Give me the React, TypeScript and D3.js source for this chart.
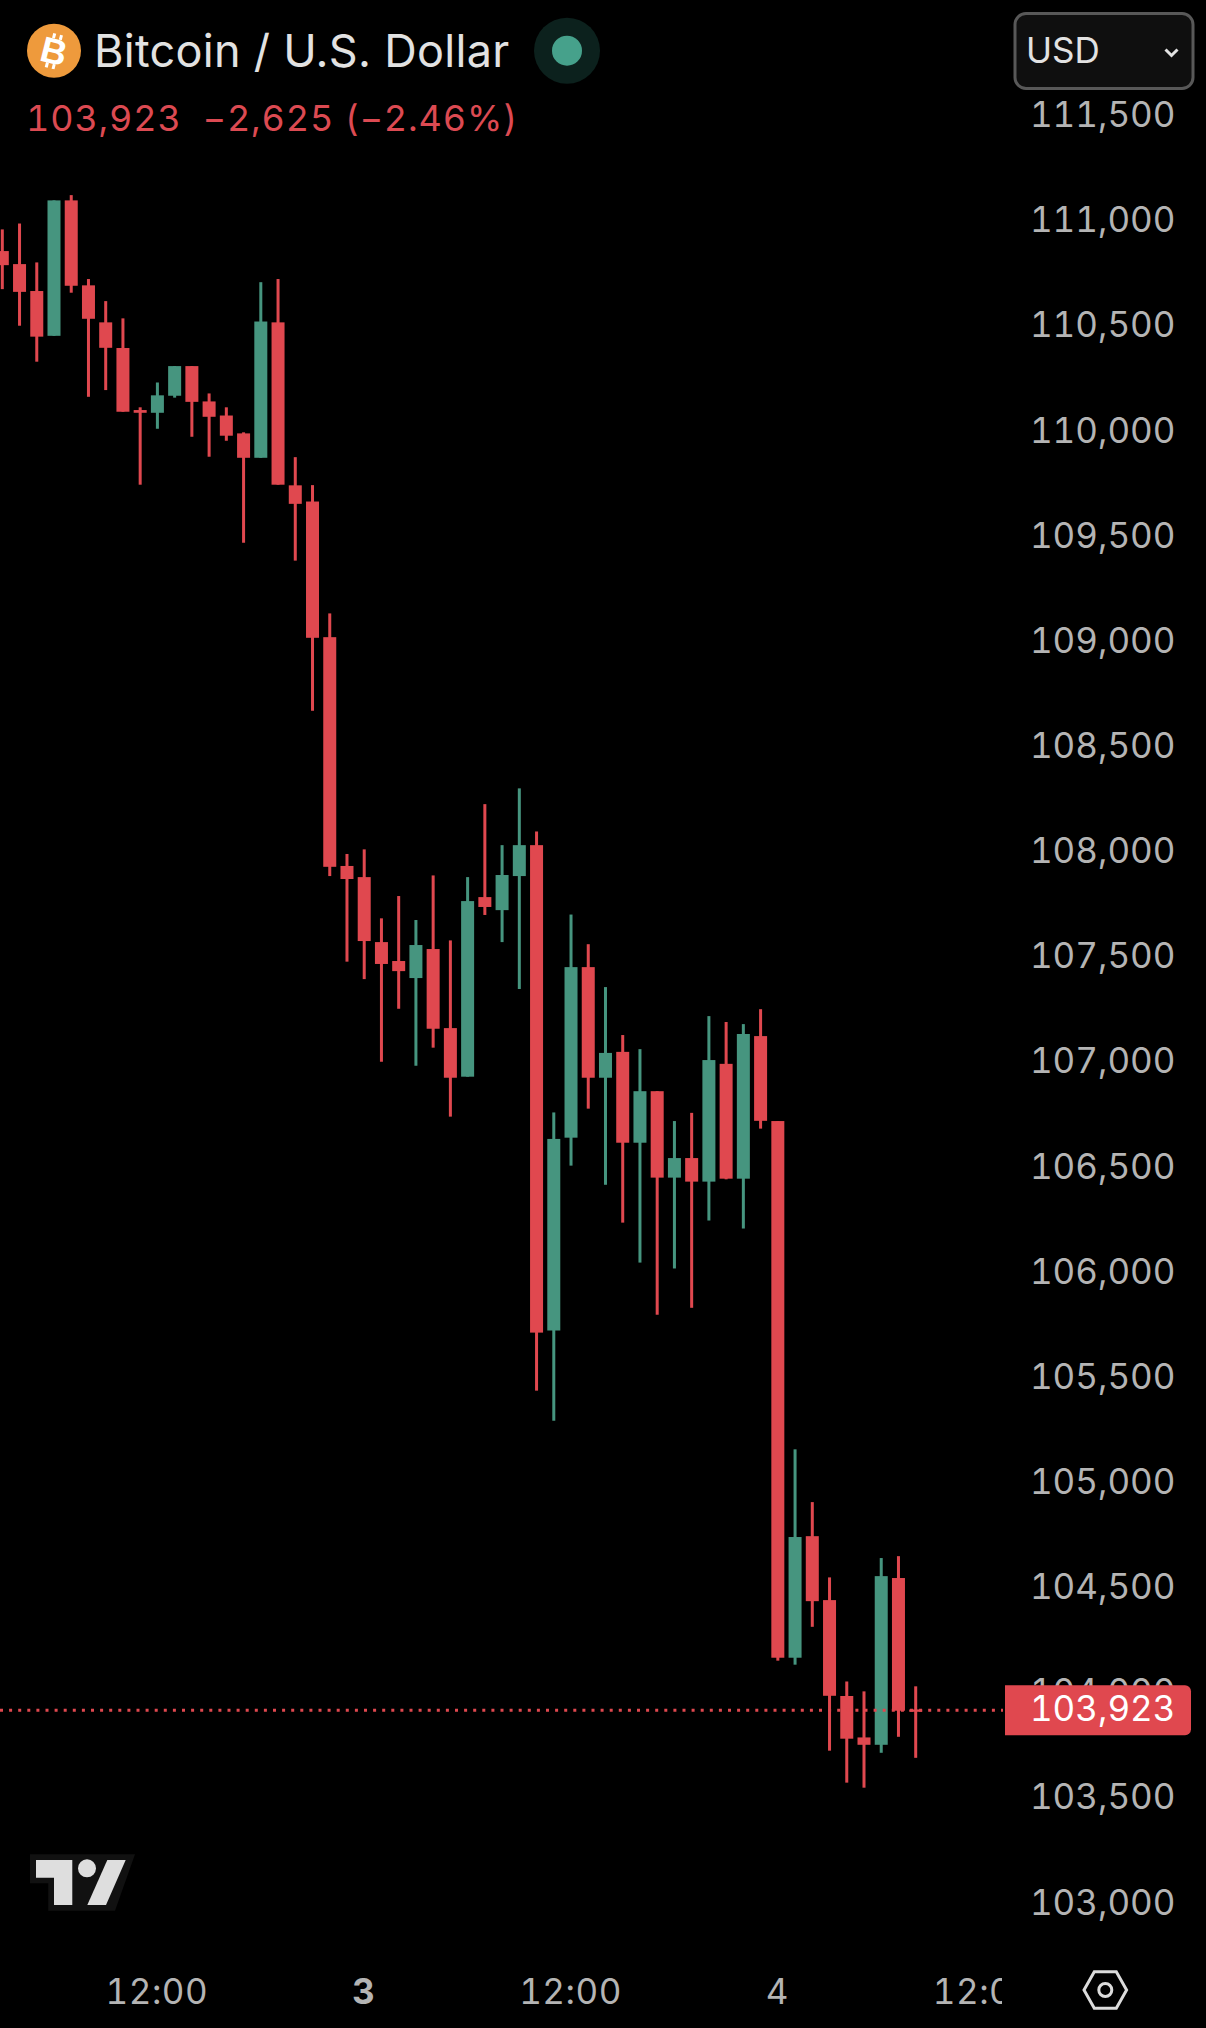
import { useEffect, useRef } from "react";
import * as d3 from "d3";

const opens = [110862, 110800, 110672, 110459, 111103, 110699, 110523, 110401, 110106, 110093, 110174, 110315, 110147, 110080, 109995, 109879, 110523, 109748, 109671, 109026, 107938, 107885, 107576, 107486, 107405, 107543, 107167, 106936, 107790, 107728, 107890, 108037, 105729, 106646, 107457, 106931, 107054, 106622, 106867, 106456, 106549, 106437, 106997, 106451, 107129, 106725, 104173, 104751, 104447, 103991, 103794, 103759, 104552, 103927];
const highs = [110965, 110993, 110808, 111103, 111128, 110729, 110624, 110542, 110119, 110237, 110315, 110315, 110185, 110119, 110000, 110714, 110729, 109882, 109749, 109139, 107995, 108017, 107689, 107795, 107681, 107893, 107584, 107885, 108232, 108037, 108307, 108102, 106766, 107707, 107566, 107362, 107134, 107067, 106867, 106725, 106764, 107224, 107196, 107186, 107257, 106725, 105164, 104913, 104555, 104060, 104013, 104647, 104656, 104037];
const lows = [110681, 110507, 110336, 110459, 110664, 110169, 110201, 110098, 109751, 110017, 110165, 109979, 109884, 109960, 109475, 109879, 109751, 109390, 108676, 107890, 107483, 107400, 107007, 107259, 106988, 107074, 106746, 106936, 107705, 107576, 107353, 105443, 105300, 106513, 106784, 106422, 106242, 106052, 105804, 106024, 105837, 106252, 106448, 106214, 106689, 104159, 104140, 104320, 103731, 103579, 103555, 103721, 103797, 103697];
const closes = [110795, 110668, 110455, 111103, 110697, 110540, 110402, 110098, 110093, 110176, 110315, 110145, 110074, 109984, 109879, 110527, 109751, 109660, 109023, 107934, 107876, 107581, 107472, 107438, 107562, 107164, 106931, 107771, 107743, 107895, 108037, 105719, 106640, 107457, 106931, 107049, 106622, 106867, 106456, 106549, 106437, 107015, 106451, 107139, 106726, 104173, 104747, 104442, 103992, 103788, 103759, 104561, 103921, 103916];

const priceTicks = d3.range(103000, 111501, 500);
const timeTickIndex = [9, 21, 33, 45, 57];
const timeTickLabels = ["12:00", "3", "12:00", "4", "12:00"];
const lastPrice = 103923;

const title = "Bitcoin / U.S. Dollar";
const quote = "103,923  \u22122,625 (\u22122.46%)";

const RED = "#e0484f";
const GREEN = "#46957f";
const AXIS_TEXT = "#b4b4b4";
const FONT = "Inter, 'Noto Sans', sans-serif";

const WIDTH = 1206;
const HEIGHT = 2028;
const PANE_RIGHT = 1003;

export default function App() {
  const svgRef = useRef<SVGSVGElement>(null);

  useEffect(() => {
    if (!svgRef.current) return;
    document.body.style.background = "#000";

    const svg = d3.select(svgRef.current);
    svg.selectAll("*").remove();

    const defs = svg.append("defs");
    defs.append("clipPath").attr("id", "pane-clip")
      .append("rect").attr("width", PANE_RIGHT).attr("height", HEIGHT);

    const x = d3.scaleLinear().domain([0, 53]).range([2.3, 915.7]);
    const y = d3.scaleLinear().domain([lastPrice, 111500]).range([1710.3, 116.9]);

    // Candles
    const pane = svg.append("g").attr("clip-path", "url(#pane-clip)");
    const candles = pane.selectAll("g.candle")
      .data(opens.map((o, i) => ({ i, o, h: highs[i], l: lows[i], c: closes[i] })))
      .join("g")
      .attr("fill", (d) => (d.c >= d.o ? GREEN : RED));

    candles.append("rect")
      .attr("x", (d) => x(d.i) - 1.5)
      .attr("width", 3)
      .attr("y", (d) => y(d.h))
      .attr("height", (d) => y(d.l) - y(d.h));

    candles.append("rect")
      .attr("x", (d) => x(d.i) - 6.5)
      .attr("width", 13)
      .attr("y", (d) => y(Math.max(d.o, d.c)))
      .attr("height", (d) => Math.max(2, y(Math.min(d.o, d.c)) - y(Math.max(d.o, d.c))));

    // Last price line
    pane.append("line")
      .attr("x1", 0)
      .attr("x2", PANE_RIGHT)
      .attr("y1", y(lastPrice))
      .attr("y2", y(lastPrice))
      .attr("stroke", RED)
      .attr("stroke-width", 3)
      .attr("stroke-dasharray", "3,6.1");

    // Price axis
    const yAxis = svg.append("g")
      .attr("transform", "translate(1175.5,-1.5)")
      .call(d3.axisLeft(y).tickValues(priceTicks).tickSize(0).tickPadding(0).tickFormat((d) => d3.format(",")(d as number)));
    yAxis.select(".domain").remove();
    yAxis.selectAll("text")
      .attr("fill", AXIS_TEXT)
      .attr("font-family", FONT)
      .attr("font-size", 35)
      .attr("style", "font-feature-settings: 'tnum'");

    // Last price tag
    const tagY = y(lastPrice);
    svg.append("path")
      .attr("d", `M1005,${tagY - 25}H1185a6,6 0 0 1 6,6V${tagY + 19}a6,6 0 0 1 -6,6H1005Z`)
      .attr("fill", RED);
    svg.append("text")
      .attr("x", 1175.5)
      .attr("y", tagY - 1)
      .attr("dy", ".32em")
      .attr("text-anchor", "end")
      .attr("fill", "#fff")
      .attr("font-family", FONT)
      .attr("font-size", 35)
      .attr("style", "font-feature-settings: 'tnum'")
      .text(d3.format(",")(lastPrice));

    // Time axis, clipped at the pane edge
    const xAxis = svg.append("g")
      .attr("clip-path", "url(#pane-clip)")
      .attr("transform", "translate(-1,1965)")
      .call(d3.axisBottom(x).tickValues(timeTickIndex).tickSize(0).tickPadding(0).tickFormat((_d, i) => timeTickLabels[i]));
    xAxis.select(".domain").remove();
    xAxis.selectAll("text")
      .attr("fill", AXIS_TEXT)
      .attr("font-family", FONT)
      .attr("font-size", 35)
      .attr("font-weight", (_d, i) => (i === 1 ? 700 : 400))
      .attr("style", "font-feature-settings: 'tnum'; letter-spacing: 0.5px")
      .attr("y", 39)
      .attr("dy", 0);

    // Header
    svg.append("circle").attr("cx", 54).attr("cy", 50.7).attr("r", 27).attr("fill", "#ee9a3c");
    const coin = svg.append("g").attr("transform", "translate(54,50.7) rotate(14)").attr("fill", "#fff");
    coin.append("text")
      .attr("text-anchor", "middle")
      .attr("y", 13)
      .attr("font-family", "'Liberation Sans', sans-serif")
      .attr("font-weight", 700)
      .attr("font-size", 36)
      .text("B");
    [[-5, -17], [2, -17], [-5, 13], [2, 13]].forEach(([tx, ty]) => {
      coin.append("rect").attr("x", tx).attr("y", ty).attr("width", 3).attr("height", 5);
    });

    svg.append("text")
      .attr("x", 94)
      .attr("y", 67)
      .attr("fill", "#e2e2e2")
      .attr("font-family", FONT)
      .attr("font-size", 45)
      .attr("style", "letter-spacing: 0.3px")
      .text(title);

    svg.append("text")
      .attr("x", 26)
      .attr("y", 131)
      .attr("fill", "#dc4a52")
      .attr("font-family", FONT)
      .attr("font-size", 36)
      .attr("style", "white-space: pre; font-feature-settings: 'tnum'; letter-spacing: 0.85px")
      .text(quote);

    // Market status dot
    svg.append("circle").attr("cx", 567).attr("cy", 50.7).attr("r", 33).attr("fill", "#0c211d");
    svg.append("circle").attr("cx", 567).attr("cy", 50.7).attr("r", 15).attr("fill", "#46a18b");

    // Currency button
    svg.append("rect")
      .attr("x", 1015).attr("y", 13.5).attr("width", 178).attr("height", 75).attr("rx", 11)
      .attr("fill", "#0f0f0f").attr("stroke", "#585858").attr("stroke-width", 3);
    svg.append("text")
      .attr("x", 1026).attr("y", 63)
      .attr("fill", "#e2e2e2")
      .attr("font-family", FONT)
      .attr("font-size", 35)
      .text("USD");
    svg.append("path")
      .attr("d", "M1165.5,49.5L1171.5,55.5L1177.5,49.5")
      .attr("fill", "none").attr("stroke", "#e2e2e2").attr("stroke-width", 3);

    // Logo
    const logo = svg.append("g").attr("fill", "#dedede");
    logo.append("path").attr("d", "M30,1854.3H135L115,1910.7H48.3V1883.3H30Z").attr("fill", "#111");
    logo.append("path").attr("d", "M36,1860H72.3V1905H54V1877.7H36Z");
    logo.append("circle").attr("cx", 87).attr("cy", 1868.3).attr("r", 9);
    logo.append("path").attr("d", "M107.3,1860H125.7L106,1905H87.3Z");

    // Settings icon
    const gear = svg.append("g").attr("fill", "none").attr("stroke", "#dcdcdc").attr("stroke-width", 3);
    gear.append("path").attr("d", "M1084,1990L1094.3,1971.7H1116.3L1126.6,1990L1116.3,2008.3H1094.3Z");
    gear.append("circle").attr("cx", 1105.3).attr("cy", 1990).attr("r", 6.5);
  }, []);

  return (
    <svg
      ref={svgRef}
      width={WIDTH}
      height={HEIGHT}
      viewBox={`0 0 ${WIDTH} ${HEIGHT}`}
      style={{ position: "absolute", left: 0, top: 0, background: "#000" }}
    />
  );
}
